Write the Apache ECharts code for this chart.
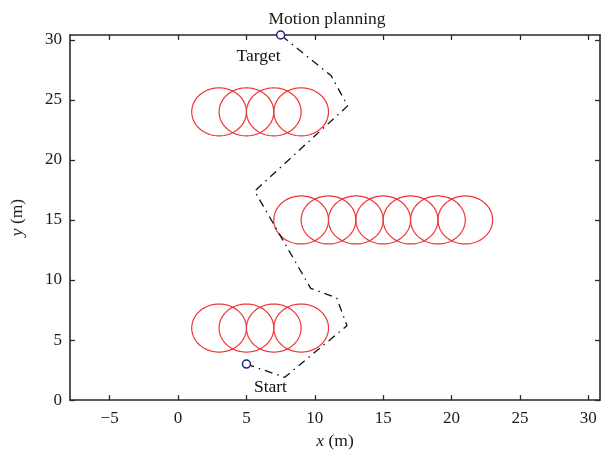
<!DOCTYPE html>
<html>
<head>
<meta charset="utf-8">
<script src="https://cdn.jsdelivr.net/npm/echarts@6/dist/echarts.min.js"></script>
<style>
  html, body { margin: 0; padding: 0; background: #fff; }
  #chart { width: 602px; height: 455px; }
</style>
</head>
<body>
<div id="chart"></div>
<script>
// obstacles (circles, radius in metres)
const obstacleX = [3, 5, 7, 9, 9, 11, 13, 15, 17, 19, 21, 3, 5, 7, 9];
const obstacleY = [24, 24, 24, 24, 15, 15, 15, 15, 15, 15, 15, 6, 6, 6, 6];
const obstacleR = 2;

// planned path, start -> target
const pathX = [5, 7.8, 12.35, 11.6, 9.7, 5.6, 12.4, 11.2, 7.5];
const pathY = [3, 1.9, 6.2, 8.5, 9.3, 17.4, 24.5, 27, 30.4];

const pointNames = ['Start', 'Target'];
const pointX = [5, 7.5];
const pointY = [3, 30.4];

const xTicks = [-5, 0, 5, 10, 15, 20, 25, 30];
const yTicks = [0, 5, 10, 15, 20, 25, 30];

const font = 'Liberation Serif';
const axisColor = '#2a2a2a';
const textColor = '#1a1a1a';

const circles = obstacleX.map((x, i) => [x, obstacleY[i], obstacleR]);
const path = pathX.map((x, i) => [x, pathY[i]]);
const points = pointNames.map((n, i) => ({ name: n, value: [pointX[i], pointY[i]] }));

const chart = echarts.init(document.getElementById('chart'));

const baseX = {
  type: 'value', min: -7.9, max: 30.85, interval: 5,
  axisLine: { show: true, onZero: false, lineStyle: { color: axisColor, width: 1.6 } },
  axisTick: { show: true, inside: true, length: 5, lineStyle: { color: axisColor, width: 1.3 },
    customValues: xTicks },
  splitLine: { show: false }
};
const baseY = {
  type: 'value', min: 0, max: 30.4, interval: 5,
  axisLine: { show: true, onZero: false, lineStyle: { color: axisColor, width: 1.6 } },
  axisTick: { show: true, inside: true, length: 5, lineStyle: { color: axisColor, width: 1.3 },
    customValues: yTicks },
  splitLine: { show: false }
};

chart.setOption({
  animation: false,
  backgroundColor: '#fff',
  title: {
    text: 'Motion planning', left: 322, top: 5, textAlign: 'center',
    textStyle: { fontFamily: font, fontSize: 17.5, fontWeight: 'normal', color: textColor }
  },
  grid: { left: 70, right: 2, top: 35, bottom: 53 },
  xAxis: [
    Object.assign({}, baseX, {
      position: 'bottom',
      name: '{i|x} (m)', nameLocation: 'middle', nameGap: 28,
      nameTextStyle: { fontFamily: font, fontSize: 17.5, color: textColor,
        rich: { i: { fontFamily: font, fontSize: 17.5, fontStyle: 'italic', color: textColor } } },
      axisLabel: { show: true, fontFamily: font, fontSize: 17, color: textColor, margin: 10,
        customValues: xTicks,
        formatter: v => (v < 0 ? '\u2212' + (-v) : '' + v) }
    }),
    Object.assign({}, baseX, { position: 'top', axisLabel: { show: false } })
  ],
  yAxis: [
    Object.assign({}, baseY, {
      position: 'left',
      name: '{i|y} (m)', nameLocation: 'middle', nameGap: 44,
      nameTextStyle: { fontFamily: font, fontSize: 17.5, color: textColor,
        rich: { i: { fontFamily: font, fontSize: 17.5, fontStyle: 'italic', color: textColor } } },
      axisLabel: { show: true, fontFamily: font, fontSize: 17, color: textColor, margin: 8,
        customValues: yTicks }
    }),
    Object.assign({}, baseY, { position: 'right', axisLabel: { show: false } })
  ],
  series: [
    {
      type: 'custom',
      data: circles,
      renderItem: function (params, api) {
        const cx = api.value(0), cy = api.value(1), r = api.value(2);
        const pts = [];
        for (let k = 0; k < 90; k++) {
          const t = (k / 90) * Math.PI * 2;
          pts.push(api.coord([cx + r * Math.cos(t), cy + r * Math.sin(t)]));
        }
        return {
          type: 'polygon',
          shape: { points: pts },
          style: { fill: 'none', stroke: '#ee3535', lineWidth: 1.2 }
        };
      },
      z: 2
    },
    {
      type: 'line',
      data: path,
      symbol: 'none',
      lineStyle: { color: '#111', width: 1.3, type: [8, 5, 1.5, 5] },
      z: 3
    },
    {
      type: 'scatter',
      data: points,
      symbol: 'circle',
      symbolSize: 8,
      itemStyle: { color: '#fff', borderColor: '#22228a', borderWidth: 1.5, opacity: 1 },
      label: {
        show: true, formatter: '{b}', fontFamily: font, fontSize: 17.5, color: '#111',
        position: 'bottom'
      },
      labelLayout: function (p) {
        if (p.dataIndex === 0) return { dx: 24, dy: 5 };
        return { dx: -22, dy: 3 };
      },
      z: 4
    }
  ]
});
</script>
</body>
</html>
